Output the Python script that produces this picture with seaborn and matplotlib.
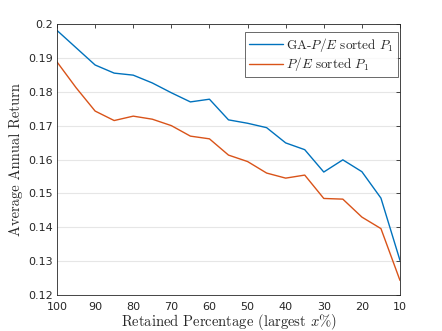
import numpy as np
import pandas as pd
import matplotlib
matplotlib.use("Agg")
import matplotlib.pyplot as plt
import seaborn as sns

retained = [100, 95, 90, 85, 80, 75, 70, 65, 60, 55, 50, 45, 40, 35, 30, 25, 20, 15, 10]
ga_pe = [0.1981, 0.1930, 0.1879, 0.1855, 0.1849, 0.1826, 0.1797, 0.1770, 0.1778, 0.1717,
         0.1707, 0.1694, 0.1649, 0.1629, 0.1563, 0.1599, 0.1564, 0.1486, 0.1302]
pe = [0.1888, 0.1812, 0.1743, 0.1715, 0.1728, 0.1719, 0.1700, 0.1669, 0.1661, 0.1613,
      0.1594, 0.1560, 0.1545, 0.1554, 0.1485, 0.1483, 0.1430, 0.1396, 0.1243]
labels = [r"GA-$P/E$ sorted $P_1$", r"$P/E$ sorted $P_1$"]

df = pd.concat([
    pd.DataFrame({"x": retained, "y": ga_pe, "series": labels[0]}),
    pd.DataFrame({"x": retained, "y": pe, "series": labels[1]}),
])

sns.set_style("white")
plt.rcParams["mathtext.fontset"] = "cm"
plt.rcParams["font.family"] = ["DejaVu Sans"]

fig = plt.figure(figsize=(4.42, 3.31), dpi=100)
ax = fig.add_axes([57 / 442, 1 - 295 / 331, (400 - 57) / 442, (295 - 24) / 331])

sns.lineplot(data=df, x="x", y="y", hue="series", palette=["#0072BD", "#D95319"],
             linewidth=1.0, ax=ax)

ax.set_xlim(100, 10)
ax.set_ylim(0.12, 0.2)
ax.set_xticks(np.arange(100, 9, -10))
ax.set_xticklabels([str(v) for v in range(100, 9, -10)])
yt = [0.12, 0.13, 0.14, 0.15, 0.16, 0.17, 0.18, 0.19, 0.2]
ax.set_yticks(yt)
ax.set_yticklabels(["%g" % v for v in yt])
ax.yaxis.grid(True, color="#e6e6e6", linewidth=0.8)
ax.set_axisbelow(True)
ax.tick_params(direction="in", length=3, width=0.6, top=True, right=True,
               labelsize=8, colors="#262626")
ax.tick_params(axis="x", pad=5)
ax.tick_params(axis="y", pad=3)
for s in ax.spines.values():
    s.set_color("#262626")
    s.set_linewidth(0.6)

ax.set_xlabel(r"Retained Percentage (largest $x$%)", family="cmr10", fontsize=10.5,
              color="#262626", labelpad=0)
ax.set_ylabel("Average Annual Return", family="cmr10", fontsize=10.5,
              color="#262626", labelpad=4)

leg = ax.legend(loc="upper right", bbox_to_anchor=(0.995, 0.97),
                prop={"family": "cmr10", "size": 9.5},
                frameon=True, fancybox=False, edgecolor="#262626",
                borderaxespad=0, handlelength=2.6, handletextpad=0.25,
                borderpad=0.3, labelspacing=0.1)
leg.get_frame().set_linewidth(0.6)

fig.savefig("out.png", dpi=100)
